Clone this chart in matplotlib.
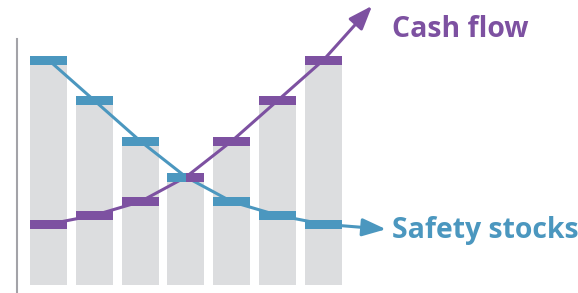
import numpy as np
import matplotlib.pyplot as plt

periods = np.arange(7)
safety_stocks = [100, 82, 64, 48, 37, 31, 27]
cash_flow = [27, 31, 37, 48, 64, 82, 100]

blue = '#4b97bf'
purple = '#7d51a1'
grey = '#dcdddf'

W, H = 578, 293
fig = plt.figure(figsize=(W / 100, H / 100), dpi=100)
left_px = 17
ax = fig.add_axes([left_px / W, 0, 1 - left_px / W, 1])

# pixel layout: bar pitch ~45.8 px, 2.25 px per unit, baseline at y=285
pitch, first_px, unit, base_px = 45.83, 48.5, 2.25, 285
ax.set_xlim((left_px - first_px) / pitch, (W - first_px) / pitch)
ax.set_ylim((base_px - H) / unit, base_px / unit)

bw = 37 / pitch
mk = 4.0  # marker band thickness (units)
tops = np.maximum(safety_stocks, cash_flow) + mk / 2
ax.bar(periods, tops, width=bw, color=grey, zorder=1)

ax.plot(periods, safety_stocks, color=blue, lw=2.2, zorder=2, solid_capstyle='butt')
ax.plot(periods, cash_flow, color=purple, lw=2.2, zorder=2, solid_capstyle='butt')

s = np.array(safety_stocks, float)
c = np.array(cash_flow, float)
same = s == c
# markers: full width, or split halves where both series meet
for x, sv, cv, eq in zip(periods, s, c, same):
    if eq:
        ax.bar(x - bw / 4, mk, bottom=sv - mk / 2, width=bw / 2, color=blue, zorder=3)
        ax.bar(x + bw / 4, mk, bottom=cv - mk / 2, width=bw / 2, color=purple, zorder=3)
    else:
        ax.bar(x, mk, bottom=sv - mk / 2, width=bw, color=blue, zorder=3)
        ax.bar(x, mk, bottom=cv - mk / 2, width=bw, color=purple, zorder=3)

arrow_kw = dict(lw=2.2, shrinkA=0, shrinkB=0, mutation_scale=20)
ax.annotate('', xy=(periods[-1], cash_flow[-1]), xytext=(35, 39), textcoords='offset points',
            arrowprops=dict(arrowstyle='<|-,head_length=0.72,head_width=0.27', color=purple, **arrow_kw),
            annotation_clip=False)
ax.annotate('', xy=(periods[-1], safety_stocks[-1]), xytext=(45, -3.6), textcoords='offset points',
            arrowprops=dict(arrowstyle='<|-,head_length=0.72,head_width=0.27', color=blue, **arrow_kw),
            annotation_clip=False)

font = dict(family='Open Sans', weight='bold', fontsize=20.4)
ax.annotate('Cash flow', xy=(periods[-1], cash_flow[-1]), xytext=(49.3, 16.9),
            textcoords='offset points', ha='left', va='baseline', color=purple, **font)
ax.annotate('Safety stocks', xy=(periods[-1], safety_stocks[-1]), xytext=(49.3, -10),
            textcoords='offset points', ha='left', va='baseline', color=blue, **font)

for sp in ['top', 'right', 'bottom']:
    ax.spines[sp].set_visible(False)
ax.spines['left'].set_color('#a3a3a8')
ax.spines['left'].set_linewidth(1.5)
ax.spines['left'].set_bounds(ax.get_ylim()[0], (base_px - 39) / unit)
ax.set_xticks([])
ax.set_yticks([])
ax.patch.set_alpha(0)

fig.savefig('out.png', dpi=100)
